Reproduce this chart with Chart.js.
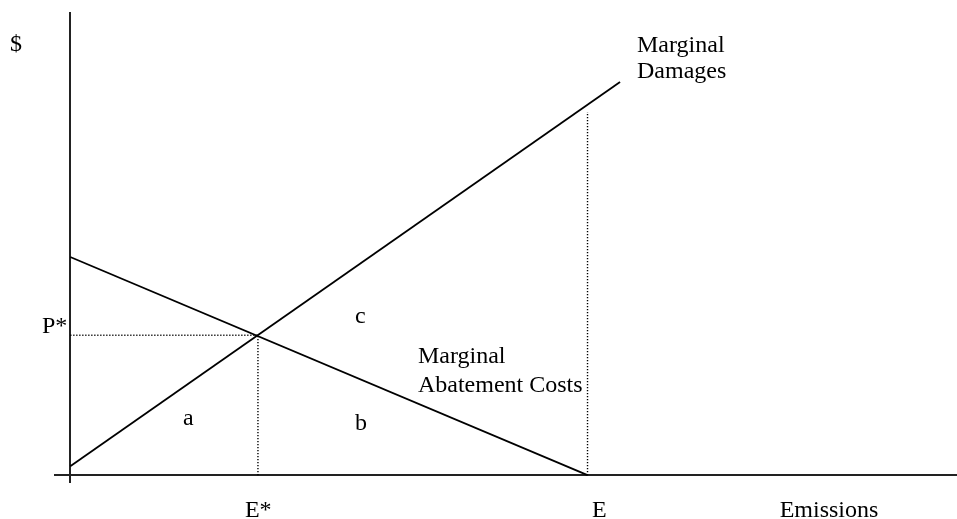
<!DOCTYPE html>
<html>
<head>
<meta charset="utf-8">
<script src="https://cdn.jsdelivr.net/npm/chart.js@4"></script>
<style>
    html, body { margin: 0; padding: 0; background: #fff; }
    #wrap { width: 957px; height: 519px; position: relative; }
</style>
</head>
<body>
<div id="wrap"><canvas id="chart"></canvas></div>
<script>
// curves (emissions on x, $ on y)
const damagesX = [0, 7.44];
const damagesY = [0.19, 8.49];
const abatementX = [0, 7];
const abatementY = [4.71, 0];

// equilibrium and unregulated emissions
const eStar = 2.54;
const pStar = 3.02;
const eFull = 7;
const eFullTop = 7.84;

// text placed in data units
const noteText = ['$', 'P*', 'E*', 'E', 'Emissions', 'a', 'b', 'c', 'Marginal', 'Damages', 'Marginal', 'Abatement Costs'];
const noteX = [-0.816, -0.383, 2.364, 7.06, 9.60, 1.525, 3.853, 3.853, 7.67, 7.67, 4.705, 4.705];
const noteY = [9.16, 3.07, -0.894, -0.894, -0.894, 1.08, 0.974, 3.28, 9.14, 8.575, 2.42, 1.79];

function toPoints(xs, ys) {
    return xs.map((x, i) => ({ x: x, y: ys[i] }));
}

const solid = {
    borderColor: '#000',
    borderWidth: 1.8,
    pointRadius: 0,
    showLine: true,
    fill: false
};

const dotted = {
    borderColor: '#000',
    borderWidth: 1.4,
    borderDash: [1.2, 1.8],
    pointRadius: 0,
    showLine: true,
    fill: false
};

// writes the labels on the canvas using the scales
const notesPlugin = {
    id: 'notes',
    afterDraw(chart) {
        const ctx = chart.ctx;
        const xs = chart.scales.x;
        const ys = chart.scales.y;
        ctx.save();
        ctx.fillStyle = '#000';
        ctx.font = '24px "Liberation Serif", "Times New Roman", serif';
        ctx.textAlign = 'left';
        ctx.textBaseline = 'alphabetic';
        noteText.forEach((t, i) => {
            ctx.fillText(t, xs.getPixelForValue(noteX[i]), ys.getPixelForValue(noteY[i]));
        });
        ctx.restore();
    }
};

// only the zero line of each scale is drawn: these are the axes
const axisOnly = {
    display: true,
    border: { display: false },
    ticks: { display: false },
    grid: { color: '#222', lineWidth: 2, drawTicks: false },
    afterBuildTicks: scale => { scale.ticks = [{ value: 0 }]; }
};

new Chart(document.getElementById('chart').getContext('2d'), {
    type: 'scatter',
    data: {
        datasets: [
            Object.assign({ label: 'Marginal Damages', data: toPoints(damagesX, damagesY) }, solid),
            Object.assign({ label: 'Marginal Abatement Costs', data: toPoints(abatementX, abatementY) }, solid),
            Object.assign({ label: 'P*', data: toPoints([0, eStar], [pStar, pStar]) }, dotted),
            Object.assign({ label: 'E*', data: toPoints([eStar, eStar], [0, pStar]) }, dotted),
            Object.assign({ label: 'E', data: toPoints([eFull, eFull], [0, eFullTop]) }, dotted)
        ]
    },
    options: {
        responsive: true,
        maintainAspectRatio: false,
        animation: false,
        layout: { padding: { left: 54, top: 12, right: 0, bottom: 36 } },
        plugins: {
            legend: { display: false },
            tooltip: { enabled: false }
        },
        scales: {
            x: Object.assign({ type: 'linear', min: -0.22, max: 12 }, axisOnly),
            y: Object.assign({ type: 'linear', min: -0.17, max: 10 }, axisOnly)
        }
    },
    plugins: [notesPlugin]
});
</script>
</body>
</html>
